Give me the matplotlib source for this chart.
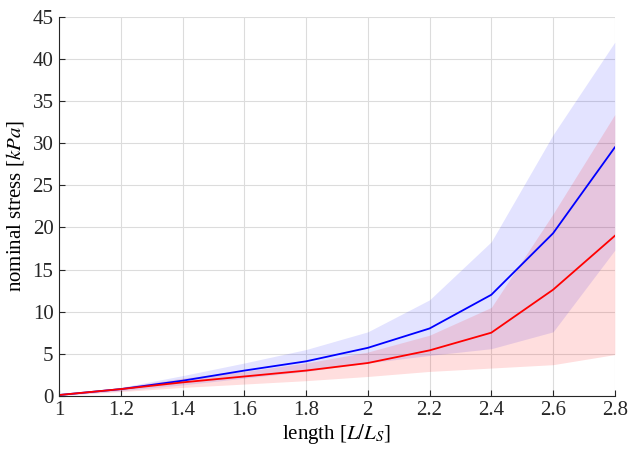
import matplotlib.pyplot as plt

# Stretch levels and stress statistics (kPa)
length = [1.0, 1.2, 1.4, 1.6, 1.8, 2.0, 2.2, 2.4, 2.6, 2.8]

blue_mean = [0.1, 0.8, 1.8, 3.0, 4.1, 5.7, 8.0, 12.0, 19.3, 29.5]
blue_upper = [0.2, 1.0, 2.4, 3.9, 5.5, 7.6, 11.4, 18.3, 31.0, 42.0]
blue_lower = [0.05, 0.6, 1.3, 2.1, 2.9, 3.9, 4.8, 5.6, 7.6, 17.3]

red_mean = [0.1, 0.8, 1.6, 2.3, 3.0, 3.9, 5.4, 7.5, 12.6, 19.0]
red_upper = [0.15, 1.0, 2.1, 2.9, 3.9, 5.2, 7.2, 10.5, 21.6, 33.4]
red_lower = [0.05, 0.5, 1.0, 1.4, 1.8, 2.3, 2.9, 3.3, 3.7, 4.9]

plt.rcParams['font.family'] = ['Liberation Serif', 'DejaVu Serif']
plt.rcParams['mathtext.fontset'] = 'stix'

fig = plt.figure(figsize=(6.28, 4.55), dpi=100)
ax = fig.add_axes([0.094, 0.130, 0.885, 0.833])

ax.fill_between(length, blue_lower, blue_upper, color='#0000ff', alpha=0.11, linewidth=0)
ax.fill_between(length, red_lower, red_upper, color='#ff0000', alpha=0.13, linewidth=0)
ax.plot(length, blue_mean, color='#0000ff', linewidth=1.3)
ax.plot(length, red_mean, color='#ff0000', linewidth=1.3)

ax.set_xlim(1, 2.8)
ax.set_ylim(0, 45)
ax.set_xticks([1, 1.2, 1.4, 1.6, 1.8, 2, 2.2, 2.4, 2.6, 2.8])
ax.set_xticklabels(['1', '1.2', '1.4', '1.6', '1.8', '2', '2.2', '2.4', '2.6', '2.8'])
ax.set_yticks(range(0, 46, 5))

ax.grid(True, color='#dcdcdc', linewidth=0.8)
ax.set_axisbelow(True)
for side in ['top', 'right']:
    ax.spines[side].set_visible(False)
for side in ['left', 'bottom']:
    ax.spines[side].set_color('#262626')
    ax.spines[side].set_linewidth(0.8)
ax.tick_params(direction='in', length=4, colors='#262626', labelsize=15, pad=4)

ax.set_xlabel(r'length [$L/L_S$]', fontsize=15, labelpad=1)
ax.set_ylabel(r'nominal stress [$kPa$]', fontsize=15, labelpad=5)

fig.savefig('out.png', dpi=100)
